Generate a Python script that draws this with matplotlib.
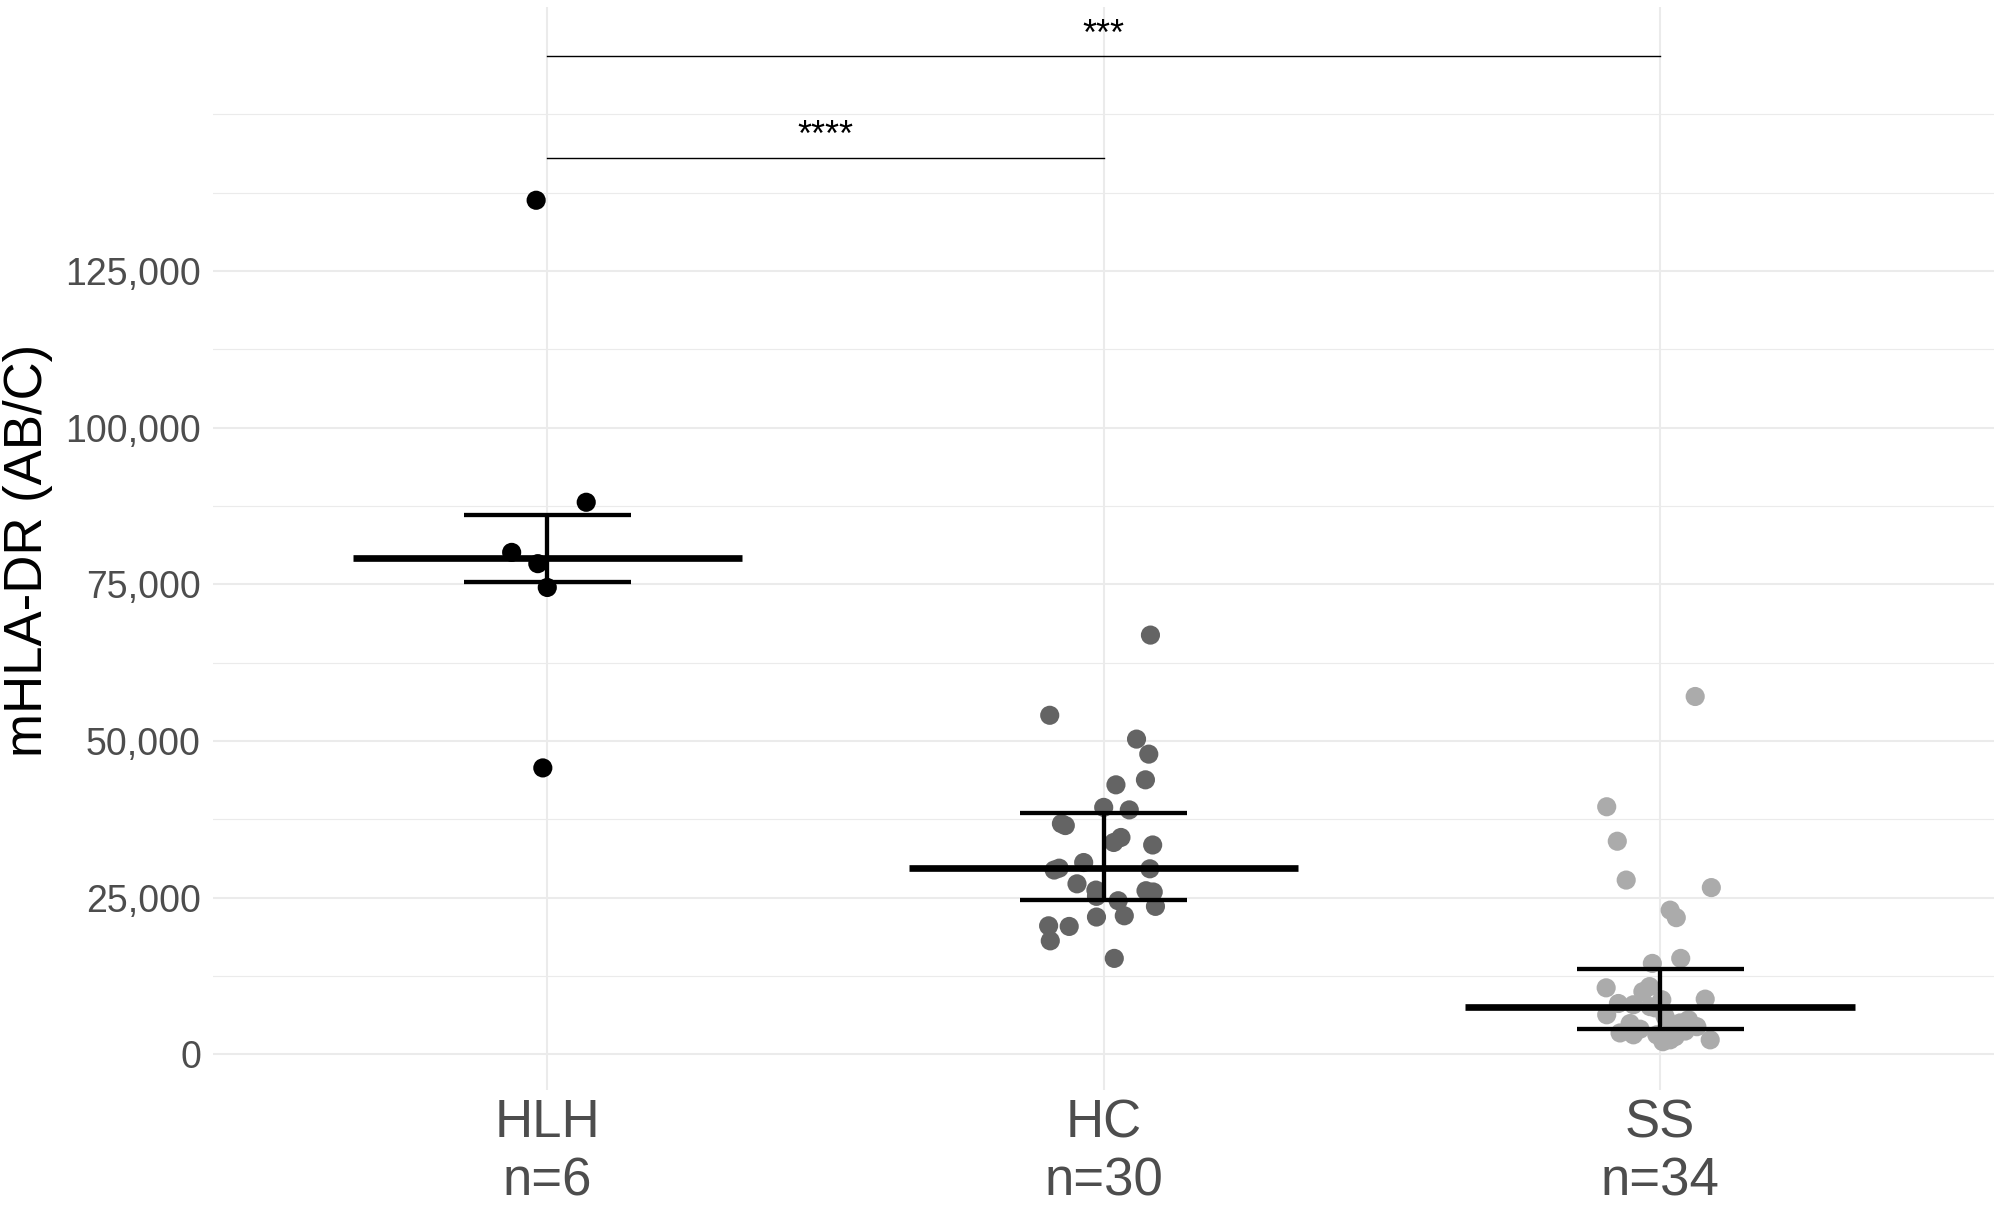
import numpy as np
import matplotlib
matplotlib.use('Agg')
import matplotlib.pyplot as plt
from matplotlib.ticker import FuncFormatter

## Data
groups = ['HLH', 'HC', 'SS']
group_n = [6, 30, 34]
colors = ['#000000', '#646464', '#ABABAB']

hlh_vals = [136300, 88100, 80100, 78300, 74500, 45700]
hlh_jit = [-0.020, 0.070, -0.064, -0.017, 0.000, -0.008]

hc_vals = [66900, 54100, 50300, 47900, 43800, 43000, 39400, 39000, 36800, 36500,
           34600, 33800, 33400, 30600, 29700, 29400, 29600, 27200, 26200, 26100,
           25900, 25200, 24500, 23600, 21900, 22100, 20500, 20400, 18100, 15300]
hc_jit = [0.084, -0.097, 0.059, 0.081, 0.075, 0.022, 0.000, 0.046, -0.076, -0.069,
          0.031, 0.018, 0.088, -0.036, -0.080, -0.089, 0.083, -0.048, -0.014, 0.076,
          0.089, -0.013, 0.026, 0.093, -0.013, 0.037, -0.099, -0.062, -0.096, 0.019]

ss_vals = [57100, 39500, 34000, 27800, 26600, 23000, 21800, 15300, 14500, 10600,
           10800, 10000, 8700, 8800, 8100, 7900, 6300, 4900, 3100, 3100,
           4700, 5500, 4400, 2300, 2300, 7600, 6000, 5000, 4000, 3700,
           2800, 2000, 7400, 3400]
ss_jit = [0.063, -0.096, -0.077, -0.061, 0.092, 0.018, 0.029, 0.037, -0.014, -0.097,
          -0.019, -0.031, 0.003, 0.081, -0.075, -0.048, -0.096, -0.054, -0.048, -0.006,
          0.021, 0.051, 0.066, 0.018, 0.090, -0.018, 0.009, 0.036, -0.036, 0.045,
          0.027, 0.005, -0.009, -0.072]

# significance brackets: (group a, group b, label, height)
comparisons = [('HLH', 'HC', '****', 143100),
               ('HLH', 'SS', '***', 159300)]

values = [hlh_vals, hc_vals, ss_vals]
jitters = [hlh_jit, hc_jit, ss_jit]

## Plot
plt.rcParams['font.family'] = ['Liberation Sans', 'DejaVu Sans']

fig = plt.figure(figsize=(20.02, 12.10), dpi=100)
ax = fig.add_axes([0.1066, 0.0992, 0.8894, 0.8953])

pos = np.arange(1, len(groups) + 1)

# grid (ggplot minimal style)
for y in np.arange(0, 150001, 12500):
    major = (y % 25000 == 0) and y <= 125000
    ax.axhline(y, color='#EBEBEB', lw=1.5 if major else 0.8, zorder=0)
for p in pos:
    ax.axvline(p, color='#EBEBEB', lw=1.5, zorder=0)

for i, (vals, jit) in enumerate(zip(values, jitters)):
    vals = np.array(vals)
    ax.scatter(pos[i] + np.array(jit), vals, s=190, color=colors[i],
               edgecolors='none', zorder=2)
    med = np.median(vals)
    q1, q3 = np.percentile(vals, [25, 75])
    ax.plot([pos[i] - 0.35, pos[i] + 0.35], [med, med], color='black', lw=4.8,
            solid_capstyle='butt', zorder=3)
    ax.plot([pos[i] - 0.15, pos[i] + 0.15], [q1, q1], color='black', lw=3.1,
            solid_capstyle='butt', zorder=3)
    ax.plot([pos[i] - 0.15, pos[i] + 0.15], [q3, q3], color='black', lw=3.1,
            solid_capstyle='butt', zorder=3)
    ax.plot([pos[i], pos[i]], [q1, q3], color='black', lw=3.1,
            solid_capstyle='butt', zorder=3)

for a, b, lab, h in comparisons:
    xa = pos[groups.index(a)]
    xb = pos[groups.index(b)]
    ax.plot([xa, xb], [h, h], color='black', lw=1.0, zorder=3)
    ax.text((xa + xb) / 2, h + 1800, lab, ha='center', va='baseline',
            fontsize=26, color='black')

ax.set_xlim(0.4, 3.6)
ax.set_ylim(-5700, 167200)
ax.set_yticks(np.arange(0, 125001, 25000))
ax.yaxis.set_major_formatter(FuncFormatter(lambda v, p: f'{int(v):,}'))
ax.set_xticks(pos)
ax.set_xticklabels([f'{g}\nn={n}' for g, n in zip(groups, group_n)],
                   linespacing=1.2)
ax.tick_params(axis='y', length=0, pad=9, labelsize=27, labelcolor='#4D4D4D')
ax.tick_params(axis='x', length=0, pad=6, labelsize=38, labelcolor='#4D4D4D')
for s in ax.spines.values():
    s.set_visible(False)

fig.text(0.0142, 0.545, 'mHLA-DR (AB/C)', rotation=90, ha='center', va='center',
         fontsize=38, color='black')

plt.savefig('out.png', dpi=100)
